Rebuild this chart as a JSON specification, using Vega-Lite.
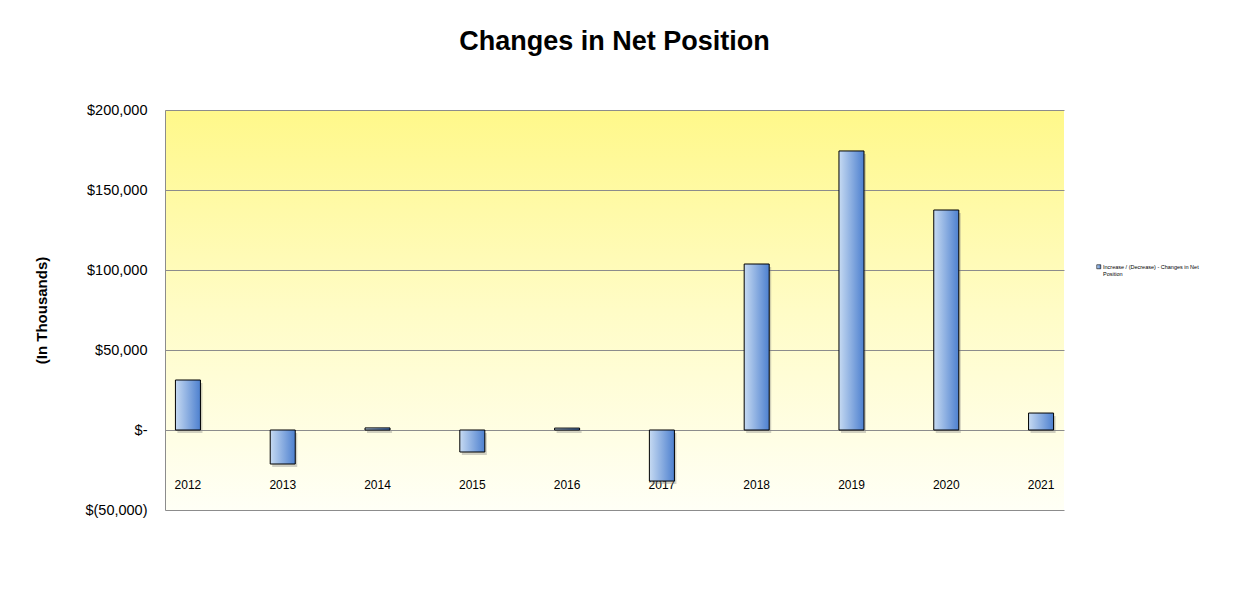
{
  "$schema": "https://vega.github.io/schema/vega-lite/v6.json",
  "width": 899,
  "height": 400,
  "autosize": {"type": "none"},
  "padding": {"left": 165, "top": 110, "right": 169, "bottom": 92},
  "background": "white",
  "title": {
    "text": "Changes in Net Position",
    "font": "Liberation Sans",
    "fontSize": 27,
    "fontWeight": "bold",
    "color": "#000000",
    "anchor": "middle",
    "frame": "group",
    "baseline": "alphabetic",
    "offset": 25
  },
  "data": {
    "values": [
      {"year": "2012", "value": 31250, "series": "Increase / (Decrease) - Changes in Net Position"},
      {"year": "2013", "value": -21250, "series": "Increase / (Decrease) - Changes in Net Position"},
      {"year": "2014", "value": 1300, "series": "Increase / (Decrease) - Changes in Net Position"},
      {"year": "2015", "value": -13750, "series": "Increase / (Decrease) - Changes in Net Position"},
      {"year": "2016", "value": 1200, "series": "Increase / (Decrease) - Changes in Net Position"},
      {"year": "2017", "value": -31900, "series": "Increase / (Decrease) - Changes in Net Position"},
      {"year": "2018", "value": 103750, "series": "Increase / (Decrease) - Changes in Net Position"},
      {"year": "2019", "value": 174400, "series": "Increase / (Decrease) - Changes in Net Position"},
      {"year": "2020", "value": 137500, "series": "Increase / (Decrease) - Changes in Net Position"},
      {"year": "2021", "value": 10600, "series": "Increase / (Decrease) - Changes in Net Position"}
    ]
  },
  "encoding": {
    "x": {
      "field": "year",
      "type": "nominal",
      "scale": {"paddingInner": 0.736, "paddingOuter": 0.11},
      "axis": {
        "orient": "bottom",
        "offset": -31,
        "domain": false,
        "ticks": false,
        "grid": false,
        "labelPadding": 0,
        "labelAngle": 0,
        "labelFont": "Liberation Sans",
        "labelFontSize": 12,
        "labelColor": "#000000",
        "title": null
      }
    },
    "y": {
      "field": "value",
      "type": "quantitative",
      "scale": {"domain": [-50000, 200000], "nice": false, "zero": false},
      "axis": {
        "values": [-50000, 0, 50000, 100000, 150000, 200000],
        "labelExpr": "datum.value == 0 ? '$-' : (datum.value < 0 ? '$(' + format(-datum.value, ',') + ')' : '$' + format(datum.value, ','))",
        "labelFont": "Liberation Sans",
        "labelFontSize": 14.5,
        "labelColor": "#000000",
        "labelPadding": 18,
        "ticks": false,
        "domain": true,
        "domainColor": "#8c8c8c",
        "grid": true,
        "gridColor": "#8c8c8c",
        "gridWidth": 1,
        "title": "(In Thousands)",
        "titleFont": "Liberation Sans",
        "titleFontSize": 15,
        "titleFontWeight": "bold",
        "titleColor": "#000000",
        "titlePadding": 35
      }
    }
  },
  "layer": [
    {
      "mark": {"type": "bar", "fill": "#7a7a7a", "opacity": 0.35, "xOffset": 2, "yOffset": 3},
      "encoding": {}
    },
    {
      "mark": {
        "type": "bar",
        "strokeWidth": 1,
        "fill": {
          "gradient": "linear",
          "x1": 0, "y1": 0, "x2": 1, "y2": 0,
          "stops": [
            {"offset": 0, "color": "#c6daf2"},
            {"offset": 1, "color": "#4d80cf"}
          ]
        }
      },
      "encoding": {
        "stroke": {
          "field": "series",
          "type": "nominal",
          "scale": {"range": ["#000000"]},
          "legend": {
            "orient": "none",
            "legendX": 931,
            "legendY": 154,
            "title": null,
            "symbolType": "square",
            "symbolSize": 16,
            "symbolStrokeWidth": 0.6,
            "symbolFillColor": "#7fa6dd",
            "labelFont": "Liberation Sans",
            "labelFontSize": 5.5,
            "labelColor": "#000000",
            "labelOffset": 1.5,
            "labelLimit": 200,
            "labelExpr": "['Increase / (Decrease) - Changes in Net', 'Position']"
          }
        }
      }
    }
  ],
  "config": {
    "view": {
      "stroke": null,
      "fill": {
        "gradient": "linear",
        "x1": 0, "y1": 0, "x2": 0, "y2": 1,
        "stops": [
          {"offset": 0, "color": "#fff88a"},
          {"offset": 0.5, "color": "#fffcc6"},
          {"offset": 1, "color": "#fffff6"}
        ]
      }
    }
  }
}
